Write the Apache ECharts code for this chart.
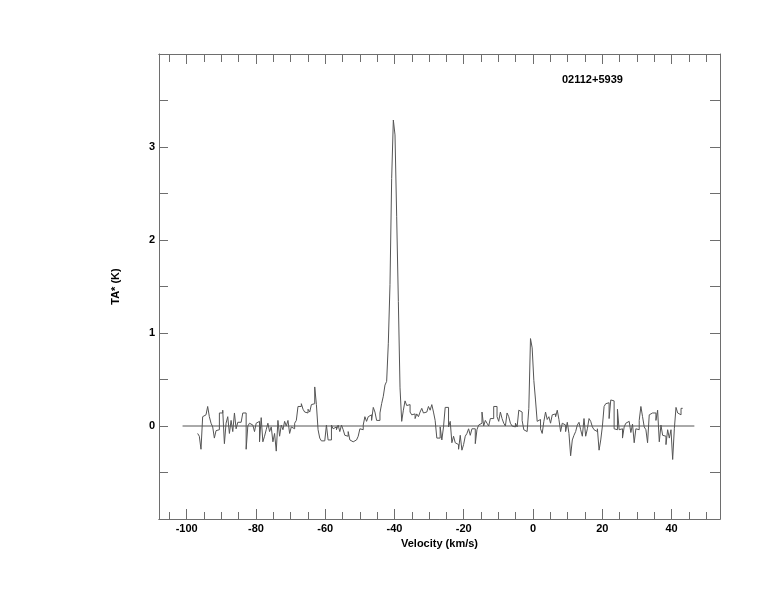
<!DOCTYPE html>
<html>
<head>
<meta charset="utf-8">
<script src="https://cdn.jsdelivr.net/npm/echarts@6/dist/echarts.min.js"></script>
<style>
html,body{margin:0;padding:0;background:#fff;}
#chart{width:774px;height:612px;}
</style>
</head>
<body>
<div id="chart"></div>
<script>
// Spectrum channels: first channel centre velocity and channel width (km/s)
const velocityStart = -96.6;
const channelWidth = 0.483;
// Antenna temperature TA* (K) per channel
const taValues = [
 -0.08,-0.11,-0.25,0.10,0.12,0.14,0.21,0.10,0.03,-0.01,
 -0.13,-0.05,-0.04,0.14,0.14,0.17,-0.19,0.03,0.10,-0.08,
 0.06,-0.06,0.14,-0.03,0.04,0.04,0.04,0.14,0.14,-0.25,
 0.00,0.03,0.01,0.00,-0.06,0.03,0.05,-0.17,0.09,-0.17,
 -0.11,-0.04,0.03,-0.06,-0.01,-0.17,-0.08,-0.27,0.06,-0.11,
 0.01,-0.04,0.05,0.00,0.06,-0.08,-0.01,-0.03,0.03,0.06,
 0.21,0.21,0.24,0.18,0.15,0.14,
 0.18,0.15,0.23,0.24,0.42,0.23,-0.04,-0.13,-0.16,-0.16,
 -0.15,0.01,-0.15,-0.15,0.01,-0.03,-0.01,-0.04,0.01,-0.06,
 0.01,-0.04,-0.10,-0.11,-0.06,-0.15,-0.17,-0.19,-0.15,-0.17,
 -0.11,-0.03,-0.04,0.01,0.10,0.05,0.10,0.12,0.06,0.20,
 0.15,0.06,0.06,0.14,0.24,0.32,0.44,
 0.48,0.89,1.52,2.66,3.29,3.13,2.25,1.34,0.41,0.05,
 0.17,0.27,0.22,0.23,0.15,0.12,0.13,0.08,0.13,0.10,
 0.15,0.19,0.14,0.15,0.14,0.21,0.17,0.23,0.15,0.06,
 -0.13,-0.13,-0.01,-0.15,-0.01,0.20,0.20,-0.01,0.05,-0.18,
 -0.11,-0.18,-0.20,-0.25,-0.10,-0.26,-0.20,-0.11,-0.08,-0.03,
 -0.10,-0.03,-0.03,-0.19,-0.04,0.01,0.03,0.15,0.00,0.06,
 0.03,0.00,0.08,0.08,0.21,0.21,0.10,0.05,0.15,0.08,
 0.03,0.00,0.14,0.10,0.03,0.00,-0.01,0.03,-0.01,0.17,
 0.15,0.06,-0.04,-0.06,-0.04,0.19,
 0.94,0.84,0.49,0.28,0.05,0.07,-0.03,-0.08,0.05,0.15,
 0.07,0.10,0.03,0.12,0.13,0.10,0.17,0.07,
 -0.06,0.03,0.01,-0.06,0.04,-0.08,-0.32,-0.15,-0.10,-0.06,
 0.01,0.04,-0.04,-0.11,0.08,-0.11,-0.03,0.08,0.05,-0.01,
 -0.04,-0.06,-0.03,-0.26,-0.15,0.00,0.21,0.24,0.25,0.08,
 0.28,0.27,-0.03,-0.04,0.18,-0.04,-0.03,-0.13,-0.01,0.03,
 0.05,0.04,-0.07,0.02,-0.18,-0.03,-0.04,0.06,0.21,0.10,
 -0.01,-0.04,-0.18,0.12,0.14,0.15,0.14,0.06,0.17,-0.17,
 0.01,-0.10,-0.11,-0.20,-0.04,-0.13,-0.04,-0.36,-0.03,0.20,
 0.14,0.12,0.19
];
// Zero baseline extent (km/s)
const baselineVel = [-101.2, 46.6];
const baselineVal = [0, 0];
// Axis tick values
const xMajorTicks = [-100,-80,-60,-40,-20,0,20,40];
const xMinorTicks = [-105,-95,-90,-85,-75,-70,-65,-55,-50,-45,-35,-30,-25,-15,-10,-5,5,10,15,25,30,35,45,50];
const sourceName = '02112+5939';
const xTitle = 'Velocity (km/s)';
const yTitle = 'TA* (K)';

// histogram-style steps: each channel drawn flat across its width
const spectrum = [];
taValues.forEach((v,i)=>{
  const c = velocityStart + i*channelWidth;
  spectrum.push([c - channelWidth/2, v], [c + channelWidth/2, v]);
});
const baseline = baselineVel.map((v,i)=>[v, baselineVal[i]]);

const FONT = 'Liberation Sans';
const AX = '#6e6e6e';
const XMIN = -108, XMAX = 54;

function xAx(pos, ticks, len, labels, extra){
  return Object.assign({
    type:'value', position:pos, min:XMIN, max:XMAX,
    axisLine:{show:true, onZero:false, lineStyle:{color:AX, width:1}},
    axisTick:{show:true, inside:true, length:len, customValues:ticks, lineStyle:{color:AX}},
    axisLabel:{show:labels, customValues:ticks, margin:4, color:'#000', fontFamily:FONT, fontWeight:'bold', fontSize:11},
    splitLine:{show:false}
  }, extra||{});
}

const chart = echarts.init(document.getElementById('chart'), null, {renderer:'canvas'});
chart.setOption({
  animation:false,
  backgroundColor:'#fff',
  title:{text:sourceName, left:557, top:69, textStyle:{fontFamily:FONT, fontWeight:'bold', fontSize:11, color:'#000'}},
  grid:{left:159, right:54, top:54, bottom:93, containLabel:false},
  xAxis:[
    xAx('bottom', xMajorTicks, 10, true, {name:xTitle, nameLocation:'middle', nameGap:18,
      nameTextStyle:{fontFamily:FONT, fontWeight:'bold', fontSize:11, color:'#000'}}),
    xAx('bottom', xMinorTicks, 7, false),
    xAx('top', xMajorTicks, 10, false),
    xAx('top', xMinorTicks, 8, false)
  ],
  yAxis:[
    {type:'value', position:'left', min:-1, max:4, interval:0.5,
     axisLine:{show:true, onZero:false, lineStyle:{color:AX}},
     axisTick:{show:true, inside:true, length:9, lineStyle:{color:AX}},
     axisLabel:{margin:4, color:'#000', fontFamily:FONT, fontWeight:'bold', fontSize:11,
       formatter:v=> (Math.abs(v-Math.round(v))<1e-9 && v>-1 && v<4) ? String(Math.round(v)) : ''},
     splitLine:{show:false},
     name:yTitle, nameLocation:'middle', nameGap:38, nameRotate:90,
     nameTextStyle:{fontFamily:FONT, fontWeight:'bold', fontSize:11, color:'#000'}},
    {type:'value', position:'right', min:-1, max:4, interval:0.5,
     axisLine:{show:true, onZero:false, lineStyle:{color:AX}},
     axisTick:{show:true, inside:true, length:10, lineStyle:{color:AX}},
     axisLabel:{show:false}, splitLine:{show:false}}
  ],
  series:[
    {type:'line', xAxisIndex:0, yAxisIndex:0, data:baseline, showSymbol:false, silent:true,
     lineStyle:{color:'#555', width:1}},
    {type:'line', xAxisIndex:0, yAxisIndex:0, data:spectrum, showSymbol:false, silent:true,
     lineStyle:{color:'#555', width:1}}
  ]
});
</script>
</body>
</html>
